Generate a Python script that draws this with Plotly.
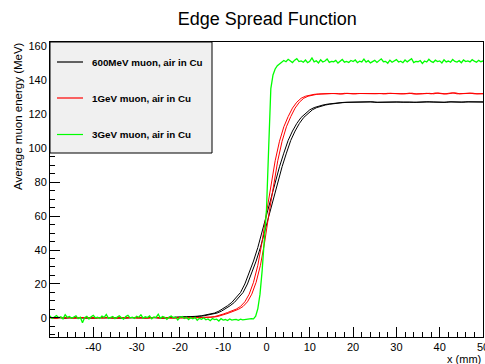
import plotly.graph_objects as go
import numpy as np

# ---------------- data ----------------
x_int = list(range(-50, 51))

black_y = [
    0.2, 0.0, 0.3, -0.1, 0.2, 0.1, 0.3, 0.0, 0.2, 0.1,
    0.0, 0.2, 0.1, 0.3, -0.1, 0.2, 0.1, 0.0, 0.2, 0.1,
    0.2, 0.0, 0.1, 0.3, 0.1, 0.2, 0.0, 0.2, 0.3, 0.2,
    0.3, 0.4, 0.5, 0.7, 1.0, 1.3, 1.7, 2.2, 2.9, 4.0,
    5.5, 7.2, 9.2, 11.8, 15.0, 20.0, 26.5, 33.5, 41.5, 51.0,
    61.0, 70.5, 80.0, 89.0, 97.0, 104.5, 110.0, 114.5, 118.0, 120.5,
    122.5, 123.8, 124.7, 125.3, 125.8, 126.2, 126.5, 126.7, 126.9, 127.0,
    127.0, 127.1, 126.9, 127.0, 127.2, 126.9, 127.0, 127.1, 127.0, 126.9,
    127.1, 127.0, 127.2, 127.0, 126.9, 127.1, 127.0, 127.2, 127.1, 127.0,
    127.1, 126.9, 127.2, 127.0, 127.1, 127.0, 127.2, 127.1, 127.0, 127.1,
    127.1,
]

red_y = [
    0.1, -0.2, 0.3, 0.0, 0.2, -0.1, 0.1, 0.3, 0.0, 0.2,
    -0.1, 0.2, 0.0, 0.3, 0.1, -0.2, 0.2, 0.0, 0.1, 0.3,
    0.0, 0.2, -0.1, 0.1, 0.3, 0.0, 0.2, 0.1, -0.1, 0.2,
    0.1, 0.0, 0.2, 0.1, 0.2, 0.3, 0.3, 0.5, 0.8, 1.4,
    2.3, 3.2, 4.1, 5.2, 6.8, 9.5, 14.0, 21.0, 31.0, 45.0,
    62.0, 78.5, 92.5, 104.0, 112.5, 118.5, 123.5, 127.0, 129.3, 130.5,
    131.2, 131.6, 131.8, 132.0, 131.9, 132.1, 132.0, 131.8, 132.2, 132.0,
    131.9, 132.1, 132.0, 132.2, 131.8, 132.0, 132.1, 131.9, 132.2, 132.0,
    132.1, 131.9, 132.0, 132.3, 131.8, 132.1, 132.0, 132.2, 131.9, 132.4,
    132.0, 131.8, 132.2, 132.5, 131.9, 132.1, 132.0, 132.3, 131.9, 132.1,
    132.0,
]

# green (3 GeV): noisy, sampled every 0.5 mm
green_left_y = [
    0.8, 0.2, 1.1, -0.3, 0.5, 1.4, 0.1, 0.7, -0.5, 1.9,
    0.3, 0.9, -0.2, 0.6, 1.2, -0.4, 0.4, -2.8, 0.2, 1.0,
    -0.6, 0.7, 1.5, 0.0, 0.5, -0.3, 1.1, 0.4, 2.1, -0.2,
    0.6, 0.9, -0.4, 0.3, 1.3, 0.2, -0.7, 0.8, 1.6, 0.1,
    0.5, -0.3, 1.0, 0.4, 1.8, -0.1, 0.7, 0.2, 1.2, -0.5,
    0.6, 0.3, 2.2, -0.2, 0.9, 0.4, -0.8, 0.5, 1.1, 0.0,
    0.6, -1.2, 0.3, 0.8, -0.3, 0.4, -0.9, 0.2, -0.5, 0.3,
    -1.4, -0.2, -0.8, 0.1, -1.1, -0.6, -1.6, -0.3, -1.0, -0.7,
    -1.8, -0.4, -1.2, -0.9, -1.5, -0.6, -1.3, -1.0, -0.8, -1.4,
    -0.7, -1.1, -0.9, -0.6, -0.5, -0.4, -0.5,
]
green_edge_x = [-2.5, -2.0, -1.5, -1.0, -0.5, 0.0, 0.5, 1.0, 1.5, 2.0, 2.5, 3.0, 3.5]
green_edge_y = [1.0, 5.5, 14.0, 28.0, 46.0, 64.0, 100.0, 135.0, 143.0, 146.5, 148.5, 149.8, 150.5]
green_right_y = [
    151.5, 150.8, 152.2, 151.0, 150.3, 151.7, 152.6, 150.9, 151.3, 150.5,
    151.8, 150.2, 151.1, 153.0, 150.7, 151.4, 150.1, 151.9, 150.6, 151.2,
    152.4, 150.4, 151.0, 150.8, 151.6, 150.0, 151.3, 152.1, 150.5, 151.0,
    150.3, 151.5, 150.9, 151.8, 150.2, 151.1, 150.7, 152.3, 150.6, 151.4,
    150.1, 150.9, 151.6, 150.4, 151.2, 152.5, 150.8, 151.0, 149.9, 151.7,
    150.5, 151.3, 152.0, 150.6, 151.1, 150.2, 151.8, 150.7, 151.4, 152.6,
    150.3, 151.0, 150.8, 151.5, 149.8, 151.2, 150.6, 152.2, 151.0, 150.4,
    151.7, 150.9, 151.3, 150.1, 151.9, 150.7, 151.2, 150.5, 152.1, 151.0,
    150.6, 151.4, 150.2, 151.8, 150.9, 151.3, 150.7, 152.0, 151.1, 150.5,
    151.6, 150.8, 151.2, 150.4, 151.5,
]

legend_labels = ["600MeV muon, air in Cu", "1GeV muon, air in Cu", "3GeV muon, air in Cu"]
x_tick_vals = [-40, -30, -20, -10, 0, 10, 20, 30, 40, 50]
y_tick_vals = [0, 20, 40, 60, 80, 100, 120, 140, 160]

# ---------------- build ----------------
step = 0.5
n_l = len(green_left_y)
green_left_x = [-3.0 - step * (n_l - 1 - i) for i in range(n_l)]
green_right_x = [4.0 + step * i for i in range(len(green_right_y))]
green_x = green_left_x + green_edge_x + green_right_x
green_y = green_left_y + green_edge_y + green_right_y

BLACK, RED, GREEN = "#000000", "#ff0000", "#00ff00"
offset = 0.6  # the doubled-line look of the histograms

fig = go.Figure()
for ys, col in [(black_y, BLACK), (red_y, RED)]:
    fig.add_trace(go.Scatter(x=x_int, y=ys, mode="lines",
                             line=dict(color=col, width=1), hoverinfo="skip"))
    fig.add_trace(go.Scatter(x=[v + offset for v in x_int], y=ys, mode="lines",
                             line=dict(color=col, width=1), hoverinfo="skip"))
fig.add_trace(go.Scatter(x=green_x, y=green_y, mode="lines",
                         line=dict(color=GREEN, width=1.3), hoverinfo="skip"))

FONT = "Liberation Sans, Arial, sans-serif"

fig.update_layout(
    width=485, height=364,
    margin=dict(l=50, r=2, t=42, b=27, autoexpand=False),
    paper_bgcolor="white", plot_bgcolor="white",
    showlegend=False,
    font=dict(family=FONT, size=11, color="black"),
    title=dict(text="Edge Spread Function", x=0.551, xanchor="center",
               y=0.95, yanchor="middle", font=dict(family=FONT, size=18, color="black")),
)
fig.update_xaxes(
    range=[-50, 50], showgrid=False, zeroline=False, automargin=False,
    showline=True, linecolor="black", linewidth=1, mirror=True,
    ticks="inside", ticklen=10, tickwidth=1, tickcolor="black",
    tickvals=x_tick_vals, ticktext=[str(v) for v in x_tick_vals],
    ticklabeloverflow="allow",
    minor=dict(ticks="inside", ticklen=5, dtick=2, tick0=0, tickcolor="black", showgrid=False),
    tickfont=dict(family=FONT, size=11),
)
fig.update_yaxes(
    range=[-11.2, 162.4], showgrid=False, zeroline=False, automargin=False,
    showline=True, linecolor="black", linewidth=1, mirror=True,
    ticks="inside", ticklen=10, tickwidth=1, tickcolor="black",
    tickvals=y_tick_vals, ticktext=[str(v) for v in y_tick_vals],
    minor=dict(ticks="inside", ticklen=5, dtick=5, tick0=0, tickcolor="black", showgrid=False),
    tickfont=dict(family=FONT, size=11),
)

# axis titles
fig.add_annotation(text="Average muon energy (MeV)", xref="paper", yref="paper",
                   x=0, y=1, xanchor="center", yanchor="top", textangle=-90,
                   xshift=-32, yshift=2, showarrow=False, font=dict(family=FONT, size=11.5))
fig.add_annotation(text="x (mm)", xref="paper", yref="paper",
                   x=1, y=0, xanchor="right", yanchor="top",
                   yshift=-14, showarrow=False, font=dict(family=FONT, size=11))

# legend box (pixel layout converted to paper coords)
PX0, PX1, PY0, PY1 = 50, 483, 42, 337
def px(x):
    return (x - PX0) / (PX1 - PX0)
def py(y):
    return (PY1 - y) / (PY1 - PY0)

fig.add_shape(type="rect", xref="paper", yref="paper",
              x0=px(50), x1=px(212), y0=py(153), y1=py(42),
              fillcolor="#f0f0f0", line=dict(color="black", width=1), layer="above")
for lab, col, yy in zip(legend_labels, [BLACK, RED, GREEN], [62, 98, 134.5]):
    fig.add_shape(type="line", xref="paper", yref="paper",
                  x0=px(57), x1=px(83), y0=py(yy), y1=py(yy),
                  line=dict(color=col, width=1.2), layer="above")
    fig.add_annotation(text="<b>" + lab + "</b>", xref="paper", yref="paper",
                       x=px(90), y=py(yy), xanchor="left", yanchor="middle",
                       showarrow=False, font=dict(family=FONT, size=9.8, color="black"))

fig.write_html("out.html")
